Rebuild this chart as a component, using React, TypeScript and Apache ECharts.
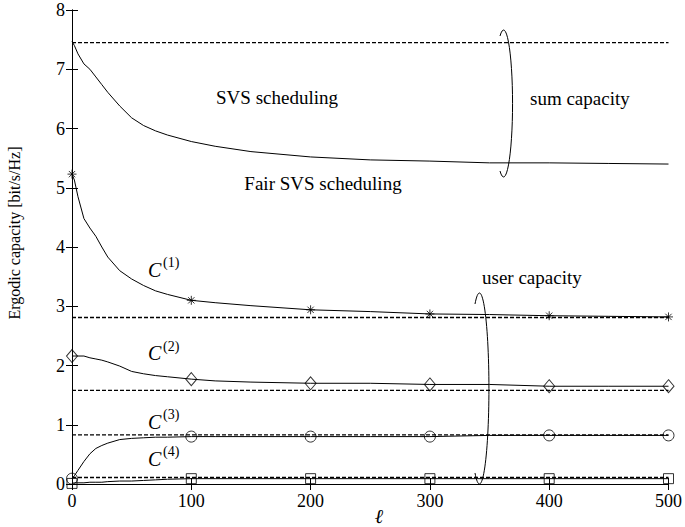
import React, { useEffect, useRef } from "react";
import * as echarts from "echarts";

// ---- data ----
const ell = [0, 2, 5, 10, 15, 20, 25, 30, 40, 50, 60, 70, 80, 100, 120, 150, 200, 250, 300, 350, 400, 450, 500];

const fairSum = [7.47, 7.4, 7.26, 7.09, 7.0, 6.87, 6.74, 6.61, 6.38, 6.18, 6.05, 5.96, 5.89, 5.78, 5.7, 5.61, 5.52, 5.47, 5.45, 5.42, 5.42, 5.41, 5.4];
const c1 = [5.23, 5.13, 4.85, 4.48, 4.32, 4.18, 4.0, 3.83, 3.6, 3.46, 3.35, 3.26, 3.2, 3.1, 3.06, 3.01, 2.94, 2.91, 2.87, 2.86, 2.84, 2.83, 2.82];
const c2 = [2.16, 2.16, 2.16, 2.16, 2.13, 2.11, 2.09, 2.06, 1.99, 1.9, 1.86, 1.83, 1.81, 1.77, 1.74, 1.72, 1.7, 1.7, 1.68, 1.68, 1.65, 1.65, 1.65];
const c3 = [0.09, 0.14, 0.23, 0.38, 0.51, 0.6, 0.65, 0.69, 0.75, 0.77, 0.78, 0.79, 0.79, 0.8, 0.8, 0.8, 0.8, 0.8, 0.8, 0.82, 0.82, 0.82, 0.82];
const c4 = [0.01, 0.02, 0.02, 0.02, 0.03, 0.03, 0.03, 0.04, 0.05, 0.05, 0.06, 0.07, 0.08, 0.09, 0.09, 0.09, 0.09, 0.09, 0.09, 0.09, 0.09, 0.09, 0.09];

const limitEll = [0, 500];
const svsSum = 7.45;
const c1Limit = 2.81;
const c2Limit = 1.58;
const c3Limit = 0.83;
const c4Limit = 0.11;

const markerEll = [0, 100, 200, 300, 400, 500];

const xTicks = { min: 0, max: 500, interval: 100 };
const yTicks = { min: 0, max: 8, interval: 1 };

const SERIF = "'Liberation Serif', 'DejaVu Serif', serif";

echarts.graphic.registerShape(
  "sumArc",
  echarts.graphic.extendPath("M500 36 A9 73.5 0 1 1 500 171", {})
);
echarts.graphic.registerShape(
  "userArc",
  echarts.graphic.extendPath("M475 304 A9.5 95.5 0 1 1 475 473", {})
);

const curve = (vals: number[]) => ({
  type: "line",
  data: ell.map((l, i) => [l, vals[i]]),
  showSymbol: false,
  symbol: "none",
  silent: true,
  lineStyle: { color: "#000", width: 1 },
});

const limit = (v: number) => ({
  type: "line",
  data: limitEll.map((l) => [l, v]),
  showSymbol: false,
  symbol: "none",
  silent: true,
  lineStyle: { color: "#000", width: 1.3, type: [4, 2] },
});

const markers = (vals: number[], symbol: string, size: any) => ({
  type: "scatter",
  data: ell
    .map((l, i) => [l, vals[i]])
    .filter((p) => markerEll.indexOf(p[0]) >= 0),
  symbol,
  symbolSize: size,
  clip: false,
  silent: true,
  itemStyle: { color: "rgba(0,0,0,0)", borderColor: "#000", borderWidth: 1 },
});

const STAR = "path://M5 0L5 10M0 5L10 5M1.5 1.5L8.5 8.5M1.5 8.5L8.5 1.5";

const txt = (text: string, x: number, y: number, size: number, align = "left", extra: any = {}) => ({
  type: "text",
  x,
  y,
  silent: true,
  ...extra,
  style: {
    text,
    fontSize: size,
    fontFamily: SERIF,
    fill: "#000",
    textAlign: align,
    textVerticalAlign: "middle",
    ...(extra.style || {}),
  },
});

export default function App() {
  const ref = useRef<HTMLDivElement>(null);
  useEffect(() => {
    if (!ref.current) return;
    const chart = echarts.init(ref.current, undefined, { renderer: "svg" });
    const axisCommon = {
      type: "value",
      axisLine: { show: true, lineStyle: { color: "#000", width: 1 } },
      axisTick: { show: true, inside: true, length: 6, lineStyle: { color: "#000" } },
      splitLine: { show: false },
    };
    chart.setOption({
      animation: false,
      backgroundColor: "#fff",
      grid: { left: 72, right: 11, top: 10, bottom: 43, containLabel: false },
      xAxis: [
        {
          ...axisCommon,
          position: "bottom",
          ...xTicks,
          axisLabel: { color: "#000", fontSize: 18, fontFamily: SERIF, margin: 8 },
        },
        {
          ...axisCommon,
          position: "top",
          ...xTicks,
          axisLabel: { show: false },
        },
      ],
      yAxis: [
        {
          ...axisCommon,
          position: "left",
          ...yTicks,
          axisLabel: { color: "#000", fontSize: 18, fontFamily: SERIF, margin: 7 },
        },
        {
          ...axisCommon,
          position: "right",
          ...yTicks,
          axisLabel: { show: false },
        },
      ],
      series: [
        limit(svsSum),
        curve(fairSum),
        limit(c1Limit),
        limit(c2Limit),
        limit(c3Limit),
        limit(c4Limit),
        curve(c1),
        curve(c2),
        curve(c3),
        curve(c4),
        markers(c1, STAR, 9),
        markers(c2, "diamond", [11, 13]),
        markers(c3, "circle", 11),
        markers(c4, "rect", 10),
      ],
      graphic: [
        txt("SVS scheduling", 277, 97, 19, "center"),
        txt("Fair SVS scheduling", 323, 183, 19, "center"),
        txt("sum capacity", 530, 98, 19, "left"),
        txt("user capacity", 482, 277, 19, "left"),
        txt("C", 148, 270, 20, "left", { style: { fontStyle: "italic" } }),
        txt("(1)", 163, 262, 14, "left"),
        txt("C", 148, 353, 20, "left", { style: { fontStyle: "italic" } }),
        txt("(2)", 163, 346, 14, "left"),
        txt("C", 148, 422, 20, "left", { style: { fontStyle: "italic" } }),
        txt("(3)", 163, 414, 14, "left"),
        txt("C", 148, 459, 20, "left", { style: { fontStyle: "italic" } }),
        txt("(4)", 163, 451, 14, "left"),
        txt("Ergodic capacity [bit/s/Hz]", 14, 233, 16, "center", { rotation: Math.PI / 2 }),
        txt("ℓ", 379, 516, 20, "center", { style: { fontStyle: "italic" } }),
        {
          type: "sumArc",
          silent: true,
          style: { stroke: "#000", fill: "none", lineWidth: 1 },
        },
        {
          type: "userArc",
          silent: true,
          style: { stroke: "#000", fill: "none", lineWidth: 1 },
        },
      ],
    });
    return () => chart.dispose();
  }, []);
  return (
    <div
      ref={ref}
      style={{ position: "absolute", left: 0, top: 0, width: 685, height: 527 }}
    />
  );
}
